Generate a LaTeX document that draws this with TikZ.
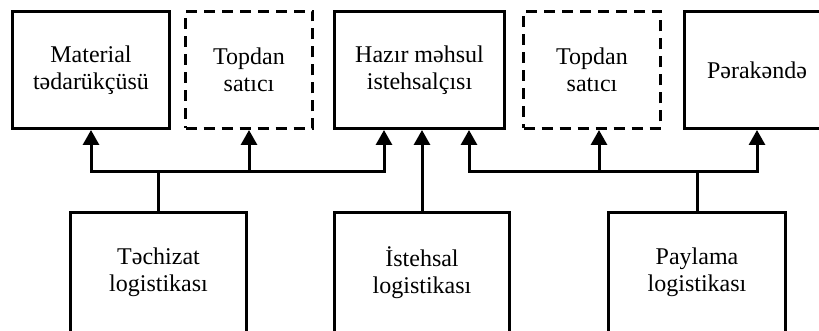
\documentclass[tikz,border=0pt]{standalone}
\usepackage{fontspec}
\setmainfont{Liberation Serif}
\usepackage{tikz}
\usetikzlibrary{arrows.meta, positioning, calc}
\tikzset{
  unit/.style={rectangle,draw=black,line width=1.5pt,align=center,inner sep=0pt,
    minimum height=58.5pt,font=\fontsize{12}{13.5}\selectfont},
  unitd/.style={unit,dash pattern=on 5.5pt off 3.5pt},
  logist/.style={unit,minimum height=60pt},
  link/.style={line width=1.5pt,black},
  flow/.style={link,-{Triangle[length=7.5pt,width=8pt]}},
}

\begin{document}
\begin{tikzpicture}
	    \useasboundingbox (0,0) rectangle (409.5pt,-165.5pt);
	    \clip (0,0) rectangle (409.5pt,-165.5pt);
	    % upper row
	    \node[unit,minimum width=78.5pt] (M) at (45.5pt,-35pt) {Material\\tədarükçüsü};
	    \node[unitd,minimum width=63.5pt,right=6.5pt of M] (T1) {Topdan\\satıcı};
	    \node[unit,minimum width=85pt,right=9.5pt of T1] (H) {Hazır məhsul\\istehsalçısı};
	    \node[unitd,minimum width=68.5pt,right=8pt of H] (T2) {Topdan\\satıcı};
	    \node[unit,minimum width=72.5pt,right=10.5pt of T2] (P) {Pərakəndə};
	    % lower row
	    \node[logist,minimum width=88pt,below=40.5pt of M,xshift=33.75pt] (L1) {Təchizat\\logistikası};
	    \node[logist,minimum width=87.5pt,below=40.5pt of H,xshift=1.25pt] (L2) {İstehsal\\logistikası};
	    \node[logist,minimum width=88.5pt,below=40.5pt of T2,xshift=52.5pt] (L3) {Paylama\\logistikası};
	    \coordinate (B1) at ($(L1.north)+(0,19.5pt)$);
	    \coordinate (B2) at ($(L3.north)+(0,19.5pt)$);
	    \draw[link] (L1.north) -- (B1);
	    \draw[flow] (B1) -| (M.south);
	    \draw[flow] (B1) -| (T1.south);
	    \draw[flow] (B1) -| ([xshift=-17.75pt]H.south);
	    \draw[flow] (L2.north) -- (L2.north |- H.south);
	    \draw[link] (L3.north) -- (B2);
	    \draw[flow] (B2) -| ([xshift=24.75pt]H.south);
	    \draw[flow] (B2) -| ([xshift=3.5pt]T2.south);
	    \draw[flow] (B2) -| (P.south);
	\end{tikzpicture}
\end{document}
